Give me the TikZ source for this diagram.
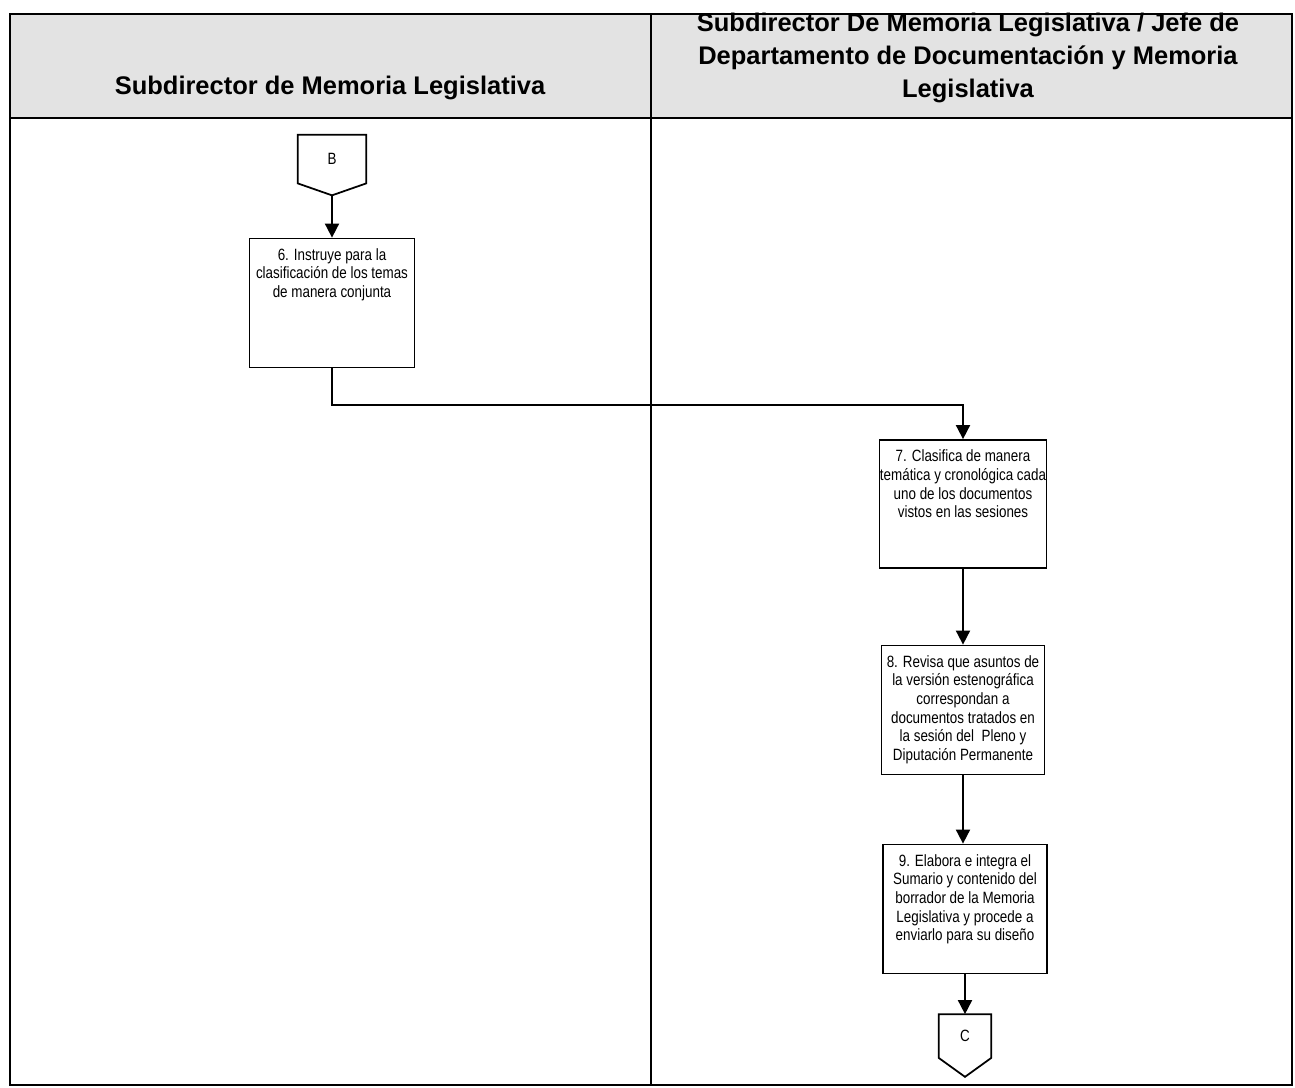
\documentclass[tikz,border=0pt]{standalone}
\usepackage{fontspec}
\setmainfont{Liberation Sans}
\newfontfamily\narrowfont[FakeStretch=0.82]{Liberation Sans}
\usetikzlibrary{calc,arrows.meta}

\begin{document}
\begin{tikzpicture}[x=0.02cm,y=-0.02cm,
    lane/.style={font=\bfseries\fontsize{14.5pt}{18.7pt}\selectfont, align=center},
    paso/.style={draw, line width=1pt, minimum width=#1*0.02cm, minimum height=129*0.02cm},
    pasotexto/.style={anchor=north, inner sep=0pt, yshift=-6pt, align=center,
        font=\narrowfont\fontsize{9.3pt}{10.6pt}\selectfont},
    conector/.style={inner sep=0pt, font=\narrowfont\fontsize{9.3pt}{10.6pt}\selectfont},
    flecha/.style={line width=1pt, -{Triangle[length=8pt,width=8pt]}}]
    \useasboundingbox (0,0) rectangle (1295,1088);
    % encabezado y carriles
    \fill[gray!22] (10,14) rectangle (1292,118);
    \draw[line width=1pt] (10,14) rectangle (1292,1085);
    \draw[line width=1pt] (10,118) -- (1292,118);
    \draw[line width=1pt] (651,14) -- (651,1085);
    \node[lane] (carril1) at (330,88) {Subdirector de Memoria Legislativa};
    \node[lane] (carril2) at (968,58) {Subdirector De Memoria Legislativa / Jefe de\\
        Departamento de Documentación y Memoria\\ Legislativa};

    % conectores fuera de pagina
    \node[conector, minimum width=68*0.02cm, minimum height=48*0.02cm] (b) at (332,159) {B};
    \coordinate (bpunta) at ($(b.south)+(0,12)$);
    \draw[line width=1pt] (b.north west) -- (b.north east) -- (b.south east)
        -- (bpunta) -- (b.south west) -- cycle;
    \node[conector, minimum width=52*0.02cm, minimum height=43*0.02cm] (c) at (965,1036) {C};
    \coordinate (cpunta) at ($(c.south)+(0,19)$);
    \draw[line width=1pt] (c.north west) -- (c.north east) -- (c.south east)
        -- (cpunta) -- (c.south west) -- cycle;

    % pasos
    \node[paso=165] (t6) at (332,303) {};
    \node[pasotexto] (t6texto) at (t6.north) {6. Instruye para la\\
        clasificación de los temas\\ de manera conjunta};
    \node[paso=167, minimum height=128*0.02cm] (t7) at (963,504) {};
    \node[pasotexto] (t7texto) at (t7.north) {7. Clasifica de manera\\
        temática y cronológica cada\\ uno de los documentos\\ vistos en las sesiones};
    \node[paso=163] (t8) at (963,710) {};
    \node[pasotexto] (t8texto) at (t8.north) {8. Revisa que asuntos de\\
        la versión estenográfica\\ correspondan a\\ documentos tratados en\\
        la sesión del~ Pleno y\\ Diputación Permanente};
    \node[paso=164] (t9) at (965,909) {};
    \node[pasotexto] (t9texto) at (t9.north) {9. Elabora e integra el\\
        Sumario y contenido del\\ borrador de la Memoria\\
        Legislativa y procede a\\ enviarlo para su diseño};

    % flechas
    \coordinate (codo) at (963,405);
    \draw[flecha] (bpunta) -- (t6.north);
    \draw[flecha] (t6.south) |- (codo) -- (t7.north);
    \draw[flecha] (t7.south) -- (t8.north);
    \draw[flecha] (t8.south) -- (t8.south |- t9.north);
    \draw[flecha] (t9.south) -- (c.north);
\end{tikzpicture}
\end{document}
